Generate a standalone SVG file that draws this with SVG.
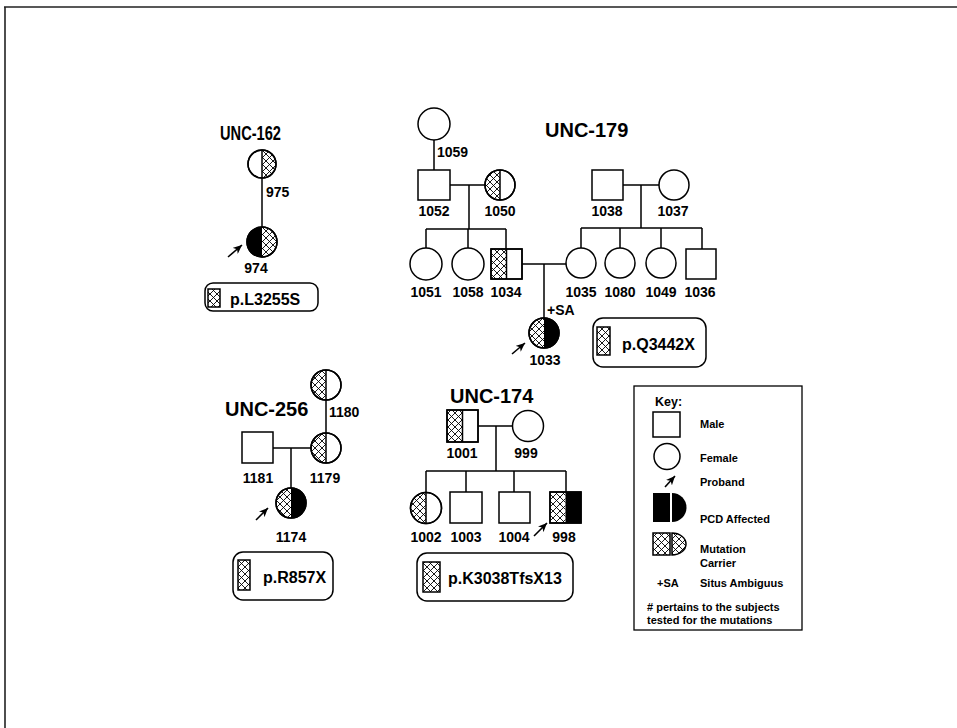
<svg xmlns="http://www.w3.org/2000/svg" width="957" height="728" viewBox="0 0 957 728">
<defs>
<pattern id="hatch" patternUnits="userSpaceOnUse" width="7" height="7">
<path d="M0,0L7,7M7,0L0,7" stroke="#000" stroke-width="0.9" fill="none"/>
</pattern>
<marker id="arr" markerUnits="userSpaceOnUse" markerWidth="9" markerHeight="8" refX="9" refY="4" orient="auto" viewBox="0 0 9 8">
<path d="M0,0L9,4L0,8L2.5,4Z" fill="#000"/>
</marker>
</defs>
<style>
.s{fill:#fff;stroke:#000;stroke-width:1.5}
.o{fill:none;stroke:#000;stroke-width:1.5}
.h{fill:url(#hatch);stroke:none}
.b{fill:#000;stroke:none}
.l{stroke:#000;stroke-width:1.5;fill:none}
.pa{stroke:#000;stroke-width:1.6;fill:none;marker-end:url(#arr)}
text{font-family:"Liberation Sans",Arial,Helvetica,sans-serif;font-weight:bold;fill:#000}
.n{font-size:14px;text-anchor:middle}
.ns{font-size:14px}
.t{font-size:20px}
.m{font-size:16px}
.k{font-size:11px}
.box{fill:#fff;stroke:#000;stroke-width:1.5}
</style>
<rect width="957" height="728" fill="#fff"/>
<path d="M4,7H957M5,7V728" stroke="#222" stroke-width="1.6" fill="none"/>

<g id="connectors">
<path class="l" d="M262,178V227"/>
<path class="l" d="M434,140V170M450,185H485M469,185V229M426,229H506M426,229V248M468,229V248M506,229V249"/>
<path class="l" d="M623,185H659M641,185V228M581,228H702M581,228V248M620,228V248M661,228V248M702,228V249"/>
<path class="l" d="M522,264H566M544,264V318"/>
<path class="l" d="M326,400V433M273,448H311M291,448V488"/>
<path class="l" d="M478,426H512.5M496,426V471M426,471H566M426,471V492.5M466,471V492M514,471V492M566,471V492"/>
<line class="pa" x1="228" y1="257" x2="242" y2="245"/>
<line class="pa" x1="512" y1="354" x2="525" y2="343"/>
<line class="pa" x1="256" y1="520" x2="268" y2="508"/>
<line class="pa" x1="534" y1="536" x2="547" y2="523"/>
</g>

<g id="unc162">
<text class="t" x="220" y="140" textLength="61" lengthAdjust="spacingAndGlyphs">UNC-162</text>
</g>
<g id="n975">
<circle class="s" cx="262" cy="164" r="14"/>
<path class="h" d="M262,150A14,14 0 0 1 262,178Z"/>
<circle class="o" cx="262" cy="164" r="14"/>
<path class="l" d="M262,150V178"/>
<text class="ns" x="266" y="197">975</text>
</g>
<g id="n974">
<circle class="s" cx="262" cy="242" r="15"/>
<path class="b" d="M262,227A15,15 0 0 0 262,257Z"/>
<path class="h" d="M262,227A15,15 0 0 1 262,257Z"/>
<circle class="o" cx="262" cy="242" r="15"/>
<text class="n" x="256" y="273">974</text>
</g>
<g id="mut162">
<rect class="box" x="205" y="283" width="113" height="28" rx="8"/>
<rect class="h" x="208" y="289" width="12" height="18"/>
<rect class="o" x="208" y="289" width="12" height="18" stroke-width="1.2"/>
<text class="m" x="230" y="305">p.L3255S</text>
</g>

<g id="unc179">
<text class="t" x="545" y="137">UNC-179</text>
</g>
<g id="n1059">
<circle class="s" cx="434" cy="124" r="16"/>
<text class="ns" x="437" y="157">1059</text>
</g>
<g id="n1052">
<rect class="s" x="418" y="170" width="32" height="30"/>
<text class="n" x="434" y="216">1052</text>
</g>
<g id="n1050">
<circle class="s" cx="500" cy="185" r="15"/>
<path class="h" d="M500,170A15,15 0 0 0 500,200Z"/>
<circle class="o" cx="500" cy="185" r="15"/>
<path class="l" d="M500,170V200"/>
<text class="n" x="500" y="216">1050</text>
</g>
<g id="n1051">
<circle class="s" cx="426" cy="264" r="16"/>
<text class="n" x="426" y="297">1051</text>
</g>
<g id="n1058">
<circle class="s" cx="468" cy="264" r="16"/>
<text class="n" x="468" y="297">1058</text>
</g>
<g id="n1034">
<rect class="s" x="491" y="249" width="31" height="30"/>
<rect class="h" x="491" y="249" width="15.5" height="30"/>
<rect class="o" x="491" y="249" width="31" height="30"/>
<path class="l" d="M506.5,249V279"/>
<text class="n" x="506" y="297">1034</text>
</g>
<g id="n1038">
<rect class="s" x="592" y="170" width="31" height="30"/>
<text class="n" x="607" y="216">1038</text>
</g>
<g id="n1037">
<circle class="s" cx="674" cy="185" r="15"/>
<text class="n" x="673" y="216">1037</text>
</g>
<g id="n1035">
<circle class="s" cx="581" cy="263" r="15"/>
<text class="n" x="581" y="297">1035</text>
</g>
<g id="n1080">
<circle class="s" cx="620" cy="263" r="15"/>
<text class="n" x="620" y="297">1080</text>
</g>
<g id="n1049">
<circle class="s" cx="661" cy="263" r="15"/>
<text class="n" x="661" y="297">1049</text>
</g>
<g id="n1036">
<rect class="s" x="686" y="249" width="30" height="30"/>
<text class="n" x="700" y="297">1036</text>
</g>
<g id="n1033">
<circle class="s" cx="544" cy="333" r="15"/>
<path class="h" d="M544,318A15,15 0 0 0 544,348Z"/>
<path class="b" d="M544,318A15,15 0 0 1 544,348Z"/>
<circle class="o" cx="544" cy="333" r="15"/>
<text class="ns" x="547" y="315">+SA</text>
<text class="n" x="545" y="365">1033</text>
</g>
<g id="mut179">
<rect class="box" x="593" y="318" width="113" height="49" rx="10"/>
<rect class="h" x="597" y="327" width="13" height="28"/>
<rect class="o" x="597" y="327" width="13" height="28" stroke-width="1.2"/>
<text class="m" x="622" y="350">p.Q3442X</text>
</g>

<g id="unc256">
<text class="t" x="225" y="416">UNC-256</text>
</g>
<g id="n1180">
<circle class="s" cx="326" cy="385" r="15"/>
<path class="h" d="M326,370A15,15 0 0 0 326,400Z"/>
<circle class="o" cx="326" cy="385" r="15"/>
<path class="l" d="M326,370V400"/>
<text class="ns" x="329" y="417">1180</text>
</g>
<g id="n1179">
<circle class="s" cx="326" cy="448" r="15"/>
<path class="h" d="M326,433A15,15 0 0 0 326,463Z"/>
<circle class="o" cx="326" cy="448" r="15"/>
<path class="l" d="M326,433V463"/>
<text class="n" x="325" y="483">1179</text>
</g>
<g id="n1181">
<rect class="s" x="242" y="432" width="31" height="31"/>
<text class="n" x="258" y="483">1181</text>
</g>
<g id="n1174">
<circle class="s" cx="291" cy="503" r="15"/>
<path class="h" d="M291,488A15,15 0 0 0 291,518Z"/>
<path class="b" d="M291,488A15,15 0 0 1 291,518Z"/>
<circle class="o" cx="291" cy="503" r="15"/>
<text class="n" x="291" y="542">1174</text>
</g>
<g id="mut256">
<rect class="box" x="233" y="552" width="100" height="48" rx="10"/>
<rect class="h" x="238" y="560" width="12" height="30"/>
<rect class="o" x="238" y="560" width="12" height="30" stroke-width="1.2"/>
<text class="m" x="263" y="583">p.R857X</text>
</g>

<g id="unc174">
<text class="t" x="450" y="403">UNC-174</text>
</g>
<g id="n1001">
<rect class="s" x="447" y="410" width="31" height="32"/>
<rect class="h" x="447" y="410" width="15.5" height="32"/>
<rect class="o" x="447" y="410" width="31" height="32"/>
<path class="l" d="M462.5,410V442"/>
<text class="n" x="462" y="458">1001</text>
</g>
<g id="n999">
<circle class="s" cx="528" cy="426" r="15.5"/>
<text class="n" x="526" y="458">999</text>
</g>
<g id="n1002">
<circle class="s" cx="426" cy="508" r="15.5"/>
<path class="h" d="M426,492.5A15.5,15.5 0 0 0 426,523.5Z"/>
<circle class="o" cx="426" cy="508" r="15.5"/>
<path class="l" d="M426,492.5V523.5"/>
<text class="n" x="426" y="542">1002</text>
</g>
<g id="n1003">
<rect class="s" x="450" y="492" width="32" height="31"/>
<text class="n" x="466" y="542">1003</text>
</g>
<g id="n1004">
<rect class="s" x="499" y="492" width="31" height="31"/>
<text class="n" x="514" y="542">1004</text>
</g>
<g id="n998">
<rect class="s" x="550" y="492" width="31" height="31"/>
<rect class="h" x="550" y="492" width="15.5" height="31"/>
<rect class="b" x="565.5" y="492" width="15.5" height="31"/>
<rect class="o" x="550" y="492" width="31" height="31"/>
<text class="n" x="564" y="542">998</text>
</g>
<g id="mut174">
<rect class="box" x="417" y="553" width="156" height="48" rx="10"/>
<rect class="h" x="423" y="562" width="17" height="30"/>
<rect class="o" x="423" y="562" width="17" height="30" stroke-width="1.2"/>
<text class="m" x="448" y="584">p.K3038TfsX13</text>
</g>

<g id="key">
<rect x="634" y="386" width="168" height="244" fill="#fff" stroke="#000" stroke-width="1.3"/>
<text x="655" y="406" font-size="12.5">Key:</text>
<rect class="s" x="653" y="412" width="27" height="25"/>
<text class="k" x="700" y="428">Male</text>
<circle class="s" cx="667" cy="456.5" r="13"/>
<text class="k" x="700" y="462">Female</text>
<line class="pa" x1="665" y1="487" x2="675" y2="476"/>
<text class="k" x="700" y="486">Proband</text>
<rect class="b" x="653" y="493" width="17" height="29"/>
<path class="b" d="M672,493A14.5,14.5 0 0 1 672,522Z"/>
<text class="k" x="700" y="523">PCD Affected</text>
<rect class="h" x="653" y="533" width="17" height="22"/>
<rect class="o" x="653" y="533" width="17" height="22" stroke-width="1.2"/>
<path class="h" d="M672,533A14,11 0 0 1 672,555Z"/>
<path class="o" d="M672,533A14,11 0 0 1 672,555Z" stroke-width="1.2"/>
<text class="k" x="700" y="553">Mutation</text>
<text class="k" x="700" y="567">Carrier</text>
<text class="k" x="657" y="587">+SA</text>
<text class="k" x="700" y="587">Situs Ambiguus</text>
<text class="k" x="647" y="611"># pertains to the subjects</text>
<text class="k" x="647" y="624">tested for the mutations</text>
</g>
</svg>
